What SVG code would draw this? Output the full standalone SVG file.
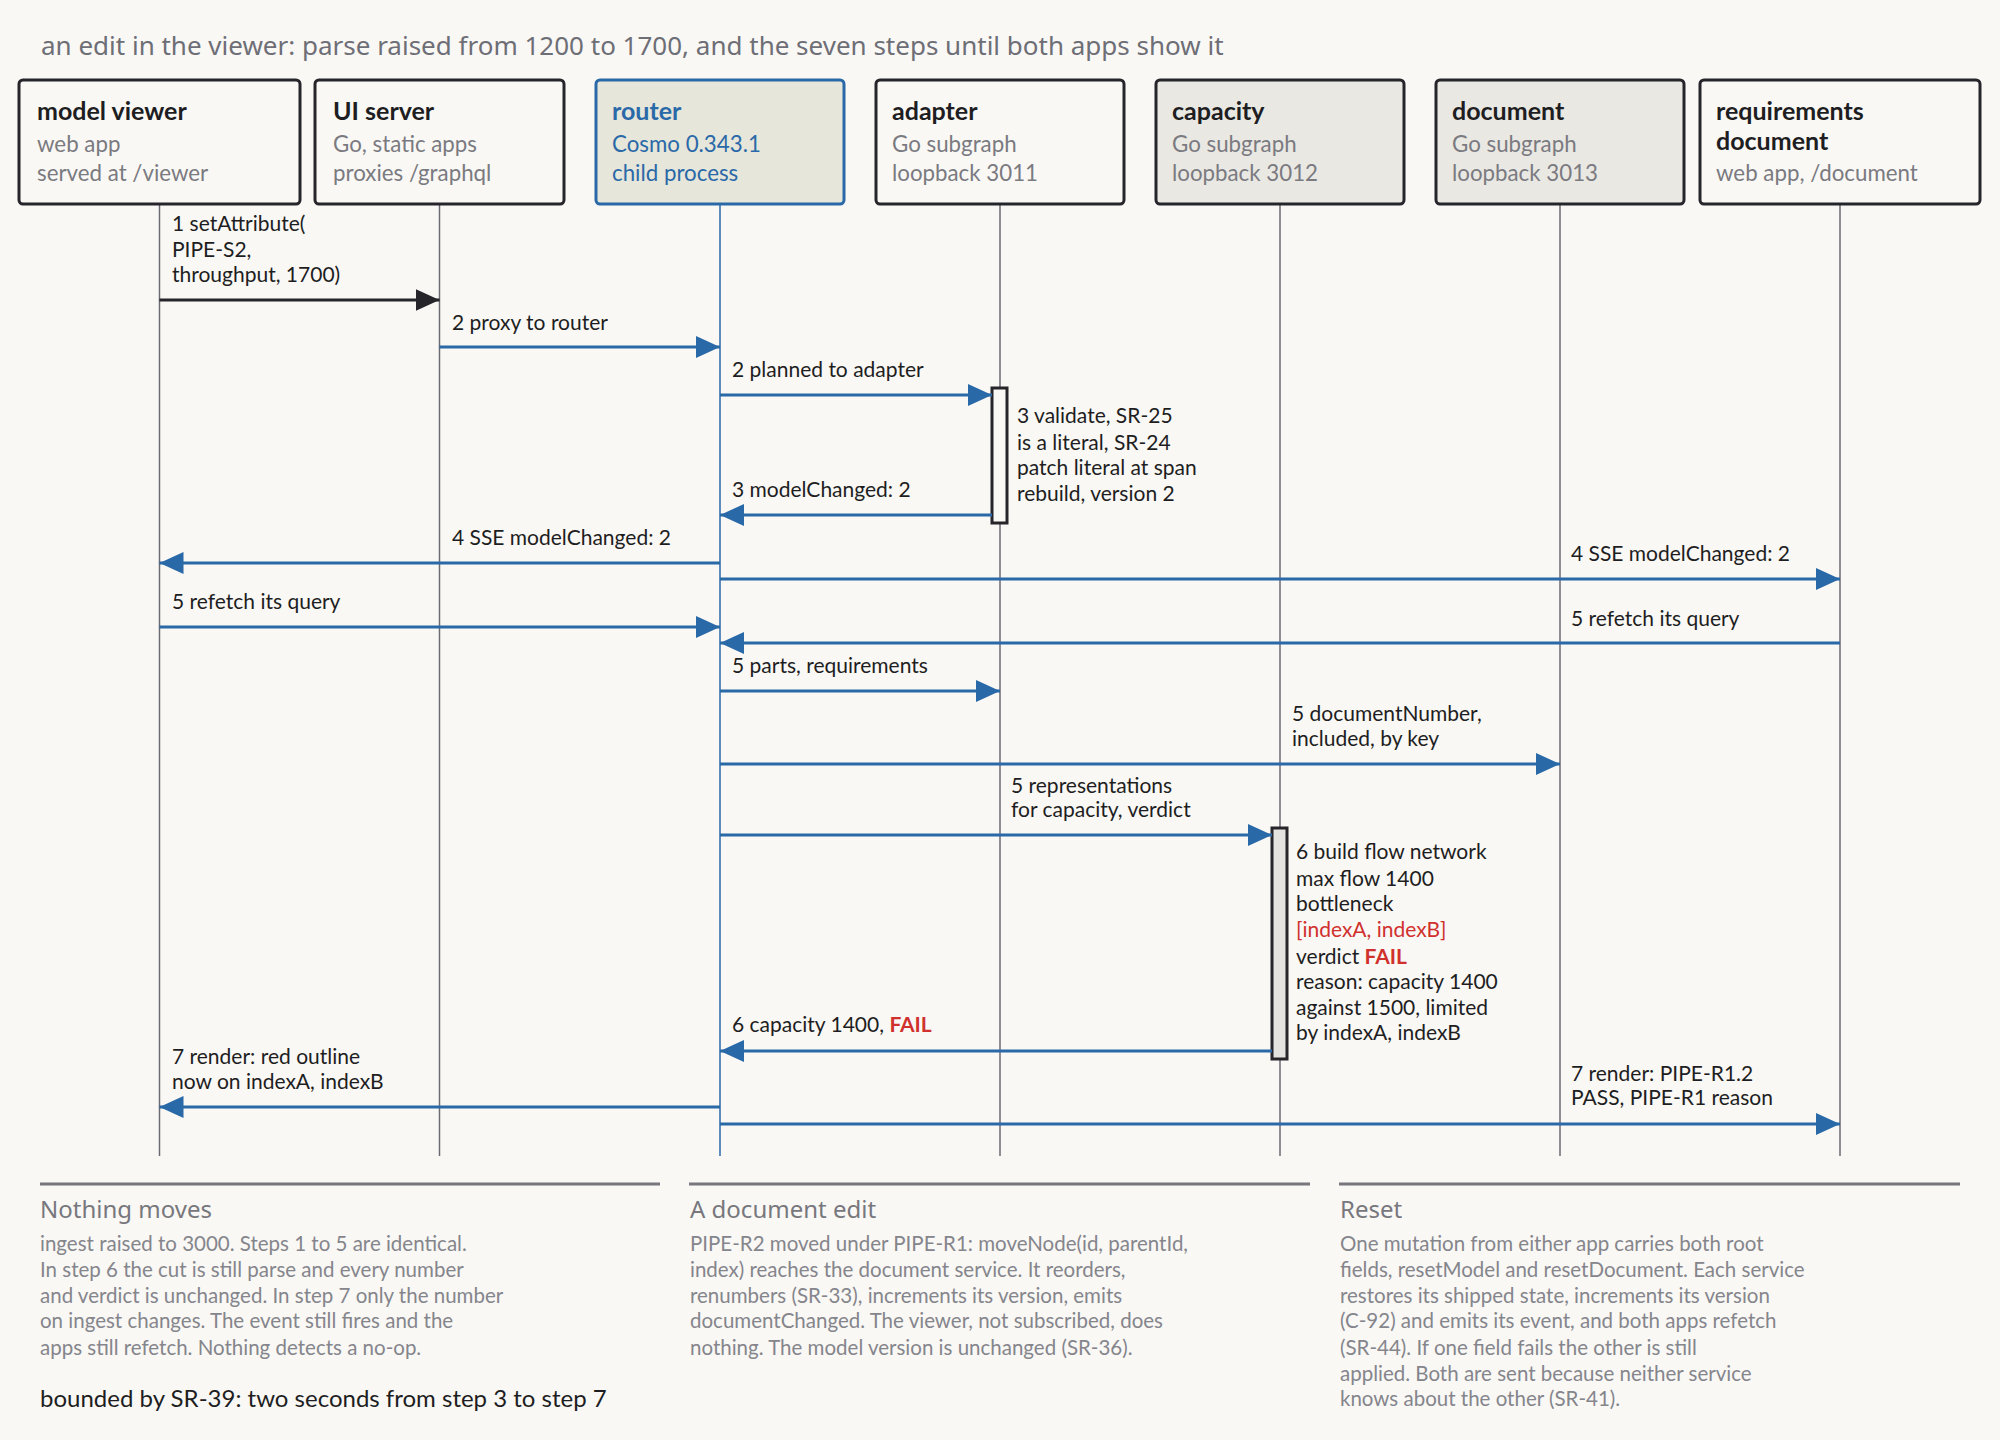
<svg xmlns="http://www.w3.org/2000/svg" width="2000" height="1440" viewBox="0 0 2000 1440">
<defs>
<style>
.bg{fill:#f9f8f5}
.title{font-family:"Noto Sans",sans-serif;font-size:26px;fill:#6e6e76}
.box{fill:#f9f8f5;stroke:#25252a;stroke-width:3}
.boxg{fill:#e9e8e3;stroke:#25252a;stroke-width:3}
.boxr{fill:#e6e6da;stroke:#2a69a8;stroke-width:3}
.nt{font-family:Lato,sans-serif;font-size:25px;font-weight:bold;fill:#1e1e22}
.ns{font-family:Lato,sans-serif;font-size:22.3px;fill:#7a7a80}
.ntb{fill:#2a69a8}
.life{stroke:#6b6b73;stroke-width:1.5}
.lifeb{stroke:#2a69a8;stroke-width:1.5}
.msg{stroke:#2a69a8;stroke-width:3;fill:none;marker-end:url(#ab)}
.msgk{stroke:#25252a;stroke-width:3;fill:none;marker-end:url(#ak)}
.lb{font-family:Lato,sans-serif;font-size:21px;fill:#1e1e22}
.red{fill:#d0312d}
.bold{font-weight:bold}
.act{fill:#f9f8f5;stroke:#25252a;stroke-width:3}
.actg{fill:#e4e3df;stroke:#25252a;stroke-width:3}
.rule{stroke:#77777d;stroke-width:3}
.hd{font-family:"Noto Sans",sans-serif;font-size:24px;fill:#77777d}
.bd{font-family:Lato,sans-serif;font-size:20.5px;fill:#85858c}
.bt{font-family:Lato,sans-serif;font-size:24px;fill:#1e1e22}
</style>
<marker id="ab" markerUnits="userSpaceOnUse" markerWidth="26" markerHeight="24" refX="24" refY="11" orient="auto"><path d="M0,0 L24,11 L0,22 z" fill="#2a69a8"/></marker>
<marker id="ak" markerUnits="userSpaceOnUse" markerWidth="26" markerHeight="24" refX="24" refY="11" orient="auto"><path d="M0,0 L24,11 L0,22 z" fill="#25252a"/></marker>
</defs>
<rect class="bg" x="0" y="0" width="2000" height="1440"/>
<text class="title" x="41" y="55">an edit in the viewer: parse raised from 1200 to 1700, and the seven steps until both apps show it</text>

<g id="lifelines">
<line class="life" x1="159.5" y1="204" x2="159.5" y2="1156"/>
<line class="life" x1="439.5" y1="204" x2="439.5" y2="1156"/>
<line class="lifeb" x1="720" y1="204" x2="720" y2="1156"/>
<line class="life" x1="1000" y1="204" x2="1000" y2="1156"/>
<line class="life" x1="1280" y1="204" x2="1280" y2="1156"/>
<line class="life" x1="1560" y1="204" x2="1560" y2="1156"/>
<line class="life" x1="1840" y1="204" x2="1840" y2="1156"/>
</g>

<g id="model-viewer">
<rect class="box" x="19" y="80" width="281" height="124" rx="4"/>
<text class="nt" x="37" y="120">model viewer</text>
<text class="ns" x="37" y="152">web app</text>
<text class="ns" x="37" y="181">served at /viewer</text>
</g>
<g id="ui-server">
<rect class="box" x="315" y="80" width="249" height="124" rx="4"/>
<text class="nt" x="333" y="120">UI server</text>
<text class="ns" x="333" y="152">Go, static apps</text>
<text class="ns" x="333" y="181">proxies /graphql</text>
</g>
<g id="router">
<rect class="boxr" x="596" y="80" width="248" height="124" rx="4"/>
<text class="nt ntb" x="612" y="120">router</text>
<text class="ns ntb" x="612" y="152">Cosmo 0.343.1</text>
<text class="ns ntb" x="612" y="181">child process</text>
</g>
<g id="adapter">
<rect class="box" x="876" y="80" width="248" height="124" rx="4"/>
<text class="nt" x="892" y="120">adapter</text>
<text class="ns" x="892" y="152">Go subgraph</text>
<text class="ns" x="892" y="181">loopback 3011</text>
</g>
<g id="capacity">
<rect class="boxg" x="1156" y="80" width="248" height="124" rx="4"/>
<text class="nt" x="1172" y="120">capacity</text>
<text class="ns" x="1172" y="152">Go subgraph</text>
<text class="ns" x="1172" y="181">loopback 3012</text>
</g>
<g id="document">
<rect class="boxg" x="1436" y="80" width="248" height="124" rx="4"/>
<text class="nt" x="1452" y="120">document</text>
<text class="ns" x="1452" y="152">Go subgraph</text>
<text class="ns" x="1452" y="181">loopback 3013</text>
</g>
<g id="requirements-document">
<rect class="box" x="1700" y="80" width="280" height="124" rx="4"/>
<text class="nt" x="1716" y="120">requirements</text>
<text class="nt" x="1716" y="150">document</text>
<text class="ns" x="1716" y="181">web app, /document</text>
</g>

<g id="activations">
<rect class="act" x="992" y="388" width="15" height="135"/>
<rect class="actg" x="1272" y="828" width="15" height="231"/>
</g>

<g id="connectors">
<line class="msgk" x1="159.5" y1="300" x2="439.5" y2="300"/>
<line class="msg" x1="439.5" y1="347" x2="720" y2="347"/>
<line class="msg" x1="720" y1="395" x2="992" y2="395"/>
<line class="msg" x1="992" y1="515" x2="720" y2="515"/>
<line class="msg" x1="720" y1="563" x2="159.5" y2="563"/>
<line class="msg" x1="720" y1="579" x2="1840" y2="579"/>
<line class="msg" x1="159.5" y1="627" x2="720" y2="627"/>
<line class="msg" x1="1840" y1="643" x2="720" y2="643"/>
<line class="msg" x1="720" y1="691" x2="1000" y2="691"/>
<line class="msg" x1="720" y1="764" x2="1560" y2="764"/>
<line class="msg" x1="720" y1="835" x2="1272" y2="835"/>
<line class="msg" x1="1272" y1="1051" x2="720" y2="1051"/>
<line class="msg" x1="720" y1="1107" x2="159.5" y2="1107"/>
<line class="msg" x1="720" y1="1124" x2="1840" y2="1124"/>
</g>

<g id="labels">
<text class="lb" x="172" y="231">1 setAttribute(</text>
<text class="lb" x="172" y="257">PIPE-S2,</text>
<text class="lb" x="172" y="282">throughput, 1700)</text>
<text class="lb" x="452" y="330">2 proxy to router</text>
<text class="lb" x="732" y="377">2 planned to adapter</text>
<text class="lb" x="1017" y="423">3 validate, SR-25</text>
<text class="lb" x="1017" y="450">is a literal, SR-24</text>
<text class="lb" x="1017" y="475">patch literal at span</text>
<text class="lb" x="1017" y="501">rebuild, version 2</text>
<text class="lb" x="732" y="497">3 modelChanged: 2</text>
<text class="lb" x="452" y="545">4 SSE modelChanged: 2</text>
<text class="lb" x="1571" y="561">4 SSE modelChanged: 2</text>
<text class="lb" x="172" y="609">5 refetch its query</text>
<text class="lb" x="1571" y="626">5 refetch its query</text>
<text class="lb" x="732" y="673">5 parts, requirements</text>
<text class="lb" x="1292" y="721">5 documentNumber,</text>
<text class="lb" x="1292" y="746">included, by key</text>
<text class="lb" x="1011" y="793">5 representations</text>
<text class="lb" x="1011" y="817">for capacity, verdict</text>
<text class="lb" x="1296" y="859">6 build flow network</text>
<text class="lb" x="1296" y="886">max flow 1400</text>
<text class="lb" x="1296" y="911">bottleneck</text>
<text class="lb red" x="1296" y="937">[indexA, indexB]</text>
<text class="lb" x="1296" y="964">verdict <tspan class="red bold">FAIL</tspan></text>
<text class="lb" x="1296" y="989">reason: capacity 1400</text>
<text class="lb" x="1296" y="1015">against 1500, limited</text>
<text class="lb" x="1296" y="1040">by indexA, indexB</text>
<text class="lb" x="732" y="1032">6 capacity 1400, <tspan class="red bold">FAIL</tspan></text>
<text class="lb" x="172" y="1064">7 render: red outline</text>
<text class="lb" x="172" y="1089">now on indexA, indexB</text>
<text class="lb" x="1571" y="1081">7 render: PIPE-R1.2</text>
<text class="lb" x="1571" y="1105">PASS, PIPE-R1 reason</text>
</g>

<g id="notes">
<line class="rule" x1="40" y1="1184" x2="660" y2="1184"/>
<line class="rule" x1="689" y1="1184" x2="1310" y2="1184"/>
<line class="rule" x1="1339" y1="1184" x2="1960" y2="1184"/>
<text class="hd" x="40" y="1218">Nothing moves</text>
<text class="bd" x="40" y="1251">ingest raised to 3000. Steps 1 to 5 are identical.</text>
<text class="bd" x="40" y="1277">In step 6 the cut is still parse and every number</text>
<text class="bd" x="40" y="1303">and verdict is unchanged. In step 7 only the number</text>
<text class="bd" x="40" y="1328">on ingest changes. The event still fires and the</text>
<text class="bd" x="40" y="1355">apps still refetch. Nothing detects a no-op.</text>
<text class="bt" x="40" y="1407">bounded by SR-39: two seconds from step 3 to step 7</text>
<text class="hd" x="690" y="1218">A document edit</text>
<text class="bd" x="690" y="1251">PIPE-R2 moved under PIPE-R1: moveNode(id, parentId,</text>
<text class="bd" x="690" y="1277">index) reaches the document service. It reorders,</text>
<text class="bd" x="690" y="1303">renumbers (SR-33), increments its version, emits</text>
<text class="bd" x="690" y="1328">documentChanged. The viewer, not subscribed, does</text>
<text class="bd" x="690" y="1355">nothing. The model version is unchanged (SR-36).</text>
<text class="hd" x="1340" y="1218">Reset</text>
<text class="bd" x="1340" y="1251">One mutation from either app carries both root</text>
<text class="bd" x="1340" y="1277">fields, resetModel and resetDocument. Each service</text>
<text class="bd" x="1340" y="1303">restores its shipped state, increments its version</text>
<text class="bd" x="1340" y="1328">(C-92) and emits its event, and both apps refetch</text>
<text class="bd" x="1340" y="1355">(SR-44). If one field fails the other is still</text>
<text class="bd" x="1340" y="1381">applied. Both are sent because neither service</text>
<text class="bd" x="1340" y="1406">knows about the other (SR-41).</text>
</g>
</svg>
